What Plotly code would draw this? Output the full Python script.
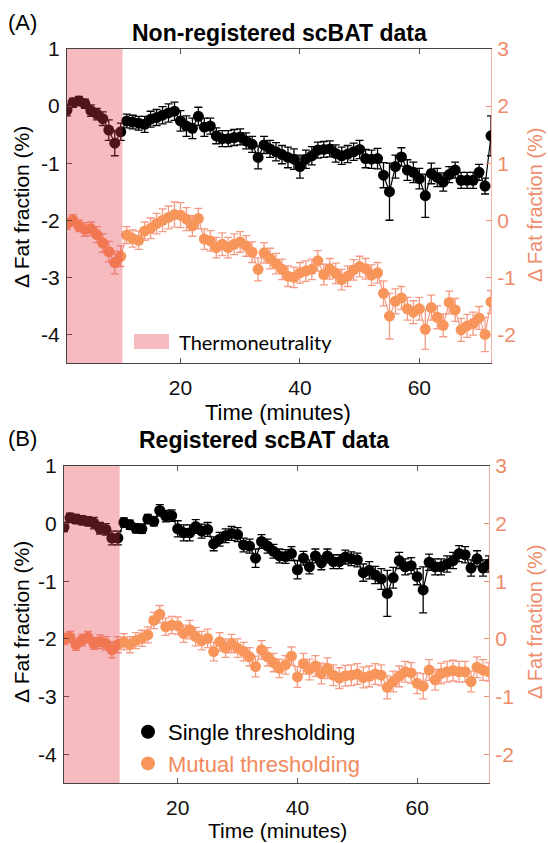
import plotly.graph_objects as go

# ---------------- data ----------------
time_min = list(range(1, 73))

# Panel A (non-registered): left axis (single thresholding), right axis (mutual thresholding)
a_single = [-0.07, 0.06, 0.09, 0.04, -0.08, -0.14, -0.22, -0.42, -0.65, -0.45,
            -0.26, -0.28, -0.30, -0.32, -0.23, -0.20, -0.16, -0.12, -0.09, -0.26,
            -0.35, -0.39, -0.18, -0.37, -0.35, -0.52, -0.57, -0.57, -0.55, -0.54,
            -0.61, -0.67, -0.90, -0.68, -0.75, -0.80, -0.85, -0.90, -0.93, -1.06,
            -0.93, -0.87, -0.77, -0.76, -0.75, -0.83, -0.87, -0.84, -0.80, -0.76,
            -0.92, -0.93, -0.92, -1.21, -1.50, -1.06, -0.89, -1.12, -1.16, -1.27,
            -1.57, -1.18, -1.25, -1.33, -1.20, -1.12, -1.30, -1.30, -1.30, -1.16,
            -1.40, -0.52]
a_single_err = [0.10, 0.08, 0.08, 0.08, 0.10, 0.10, 0.12, 0.18, 0.22, 0.15,
                0.12, 0.12, 0.12, 0.14, 0.14, 0.14, 0.15, 0.16, 0.16, 0.18,
                0.18, 0.18, 0.16, 0.16, 0.14, 0.14, 0.14, 0.14, 0.14, 0.14,
                0.14, 0.14, 0.20, 0.15, 0.15, 0.16, 0.16, 0.18, 0.18, 0.20,
                0.16, 0.16, 0.14, 0.14, 0.14, 0.15, 0.15, 0.15, 0.15, 0.16,
                0.16, 0.16, 0.18, 0.22, 0.50, 0.20, 0.16, 0.18, 0.18, 0.18,
                0.38, 0.18, 0.16, 0.16, 0.14, 0.14, 0.14, 0.14, 0.14, 0.14,
                0.14, 0.35]
a_mutual = [-0.06, 0.00, -0.10, -0.16, -0.15, -0.25, -0.40, -0.55, -0.74, -0.63,
            -0.26, -0.32, -0.35, -0.19, -0.14, -0.06, 0.00, 0.05, 0.10, 0.09,
            0.02, -0.10, 0.03, -0.33, -0.36, -0.48, -0.42, -0.48, -0.42, -0.38,
            -0.45, -0.56, -0.86, -0.57, -0.67, -0.76, -0.86, -0.98, -1.00, -0.92,
            -0.89, -0.86, -0.71, -0.95, -0.85, -0.93, -1.04, -0.98, -0.87, -0.81,
            -0.85, -0.96, -0.92, -1.28, -1.68, -1.42, -1.36, -1.55, -1.61, -1.55,
            -1.91, -1.53, -1.70, -1.84, -1.44, -1.57, -1.92, -1.85, -1.81, -1.71,
            -2.00, -1.43]
a_mutual_err = [0.10, 0.10, 0.10, 0.12, 0.12, 0.14, 0.16, 0.18, 0.20, 0.18,
                0.15, 0.15, 0.16, 0.16, 0.18, 0.18, 0.20, 0.20, 0.22, 0.22,
                0.20, 0.18, 0.18, 0.18, 0.18, 0.18, 0.20, 0.18, 0.18, 0.18,
                0.18, 0.18, 0.20, 0.18, 0.18, 0.18, 0.18, 0.18, 0.18, 0.18,
                0.18, 0.18, 0.18, 0.18, 0.18, 0.18, 0.18, 0.18, 0.18, 0.18,
                0.18, 0.18, 0.18, 0.22, 0.40, 0.22, 0.20, 0.20, 0.20, 0.20,
                0.35, 0.22, 0.20, 0.20, 0.20, 0.20, 0.20, 0.20, 0.20, 0.20,
                0.30, 0.20]

# Panel B (registered)
b_single = [-0.06, 0.10, 0.08, 0.06, 0.04, 0.01, -0.08, -0.10, -0.25, -0.25,
            0.02, -0.02, -0.08, -0.09, 0.08, 0.04, 0.23, 0.13, 0.14, -0.09,
            -0.16, -0.16, -0.05, -0.13, -0.10, -0.35, -0.27, -0.21, -0.17, -0.19,
            -0.37, -0.39, -0.60, -0.31, -0.39, -0.48, -0.56, -0.57, -0.52, -0.80,
            -0.60, -0.75, -0.56, -0.68, -0.56, -0.66, -0.66, -0.58, -0.61, -0.63,
            -0.85, -0.81, -0.89, -0.96, -1.21, -0.94, -0.64, -0.75, -0.73, -0.92,
            -1.15, -0.67, -0.75, -0.75, -0.70, -0.64, -0.52, -0.54, -0.77, -0.61,
            -0.77, -0.70]
b_single_err = [0.08, 0.08, 0.08, 0.08, 0.08, 0.10, 0.10, 0.10, 0.12, 0.12,
                0.08, 0.08, 0.08, 0.08, 0.08, 0.08, 0.10, 0.10, 0.10, 0.14,
                0.14, 0.14, 0.12, 0.12, 0.12, 0.12, 0.12, 0.12, 0.12, 0.12,
                0.12, 0.12, 0.16, 0.12, 0.12, 0.12, 0.12, 0.12, 0.12, 0.16,
                0.12, 0.12, 0.12, 0.12, 0.12, 0.12, 0.12, 0.12, 0.12, 0.12,
                0.15, 0.15, 0.15, 0.18, 0.40, 0.18, 0.14, 0.14, 0.14, 0.14,
                0.40, 0.14, 0.14, 0.14, 0.14, 0.14, 0.14, 0.14, 0.14, 0.14,
                0.14, 0.14]
b_mutual = [0.00, 0.03, -0.10, -0.02, 0.03, -0.08, -0.05, -0.08, -0.19, -0.10,
            -0.05, -0.10, -0.03, 0.01, 0.07, 0.32, 0.43, 0.21, 0.24, 0.23,
            0.09, 0.16, 0.04, -0.03, 0.01, -0.22, -0.05, -0.16, -0.08, -0.16,
            -0.22, -0.31, -0.48, -0.19, -0.31, -0.41, -0.51, -0.45, -0.30, -0.66,
            -0.43, -0.53, -0.47, -0.60, -0.51, -0.63, -0.68, -0.64, -0.63, -0.61,
            -0.67, -0.65, -0.61, -0.63, -0.84, -0.74, -0.65, -0.57, -0.59, -0.77,
            -0.82, -0.54, -0.71, -0.60, -0.57, -0.55, -0.57, -0.57, -0.74, -0.49,
            -0.54, -0.57]
b_mutual_err = [0.10, 0.10, 0.10, 0.10, 0.10, 0.10, 0.12, 0.12, 0.14, 0.14,
                0.14, 0.14, 0.14, 0.14, 0.14, 0.14, 0.15, 0.15, 0.15, 0.15,
                0.15, 0.16, 0.16, 0.16, 0.16, 0.16, 0.16, 0.16, 0.16, 0.16,
                0.16, 0.16, 0.18, 0.16, 0.16, 0.16, 0.16, 0.16, 0.16, 0.18,
                0.18, 0.18, 0.18, 0.18, 0.18, 0.18, 0.18, 0.18, 0.18, 0.18,
                0.18, 0.18, 0.18, 0.18, 0.20, 0.18, 0.18, 0.18, 0.18, 0.18,
                0.22, 0.18, 0.18, 0.18, 0.18, 0.18, 0.18, 0.18, 0.18, 0.18,
                0.18, 0.16]

thermo_start, thermo_end = 1, 10.3
left_ticks = [1, 0, -1, -2, -3, -4]
left_ticktext = ["1", "0", "-1", "-2", "-3", "-4"]
right_ticks = [3, 2, 1, 0, -1, -2]
right_ticktext = ["3", "2", "1", "0", "-1", "-2"]
x_ticks = [20, 40, 60]

# ---------------- styles ----------------
BLACK = "#000000"
ORANGE = "#F7955A"
ORANGE_ERR = "#F59A85"
SALMON = "#EE8C6C"
PINK = "#E63C46"
FONT = "Liberation Sans, Arial, sans-serif"
TICK_SIZE = 21

W, H = 548, 843
def fx(px):
    return px / W
def fy(py):
    return 1 - py / H

fig = go.Figure()

def add_series(x, y, err, xa, ya, color, ecolor, lcolor, name):
    fig.add_trace(go.Scatter(
        x=x, y=y, xaxis=xa, yaxis=ya, mode="lines+markers",
        line=dict(color=lcolor, width=1.2),
        marker=dict(color=color, size=11, line=dict(width=0)),
        error_y=dict(type="data", array=err, visible=True, color=ecolor, thickness=1.3, width=4),
        name=name, showlegend=False, hoverinfo="skip"))

add_series(time_min, a_mutual, a_mutual_err, "x", "y2", ORANGE, ORANGE_ERR, ORANGE_ERR, "Mutual thresholding")
add_series(time_min, a_single, a_single_err, "x", "y", BLACK, BLACK, BLACK, "Single thresholding")
add_series(time_min, b_mutual, b_mutual_err, "x2", "y4", ORANGE, ORANGE_ERR, ORANGE_ERR, "Mutual thresholding")
add_series(time_min, b_single, b_single_err, "x2", "y3", BLACK, BLACK, BLACK, "Single thresholding")

# legend-only entries for panel B
fig.add_trace(go.Scatter(x=[None], y=[None], xaxis="x2", yaxis="y3", mode="markers",
                         marker=dict(color=BLACK, size=14), name="Single thresholding",
                         showlegend=True))
fig.add_trace(go.Scatter(x=[None], y=[None], xaxis="x2", yaxis="y3", mode="markers",
                         marker=dict(color=ORANGE, size=14),
                         name='<span style="color:#F28A5E">Mutual thresholding</span>',
                         showlegend=True))

# thermoneutrality shading (drawn above the data, like the original)
fig.add_shape(type="rect", xref="x", yref="y domain", x0=thermo_start, x1=thermo_end, y0=0, y1=1,
              fillcolor=PINK, opacity=0.35, line=dict(width=0), layer="above")
fig.add_shape(type="rect", xref="x2", yref="y3 domain", x0=thermo_start, x1=thermo_end, y0=0, y1=1,
              fillcolor=PINK, opacity=0.35, line=dict(width=0), layer="above")
# legend swatch for the shading (panel A)
fig.add_shape(type="rect", xref="paper", yref="paper", x0=fx(134), x1=fx(169), y0=fy(349), y1=fy(334),
              fillcolor=PINK, opacity=0.35, line=dict(width=0), layer="above")

xcommon = dict(range=[1, 72], tickvals=x_ticks, ticks="inside", ticklen=5, tickcolor="#555",
               showline=True, linecolor="#444", linewidth=1, mirror="ticks", showgrid=False,
               zeroline=False, automargin=False, ticklabelstandoff=6,
               tickfont=dict(family=FONT, size=TICK_SIZE, color="#111"))
ylcommon = dict(range=[-4.5, 1], tickvals=left_ticks, ticktext=left_ticktext, ticks="inside",
                ticklen=5, tickcolor="#444", showline=True, linecolor="#444", linewidth=1,
                showgrid=False, zeroline=False, automargin=False, ticklabelstandoff=2,
                tickfont=dict(family=FONT, size=TICK_SIZE, color="#111"))
yrcommon = dict(range=[-2.5, 3], tickvals=right_ticks, ticktext=right_ticktext, ticks="inside",
                ticklen=5, tickcolor=SALMON, showline=True, linecolor="#F5B3A0", linewidth=1,
                showgrid=False, zeroline=False, side="right", automargin=False, ticklabelstandoff=1,
                tickfont=dict(family=FONT, size=TICK_SIZE, color=SALMON))

fig.update_layout(
    width=W, height=H, margin=dict(l=0, r=0, t=0, b=0, autoexpand=False),
    paper_bgcolor="white", plot_bgcolor="white",
    xaxis=dict(domain=[fx(67), fx(491)], anchor="y", **xcommon),
    yaxis=dict(domain=[fy(363), fy(49)], anchor="x", **ylcommon),
    yaxis2=dict(overlaying="y", anchor="x", **yrcommon),
    xaxis2=dict(domain=[fx(64), fx(489)], anchor="y3", **xcommon),
    yaxis3=dict(domain=[fy(783), fy(466)], anchor="x2", **ylcommon),
    yaxis4=dict(overlaying="y3", anchor="x2", **yrcommon),
    legend=dict(x=fx(128), y=fy(748), xanchor="left", yanchor="middle", tracegroupgap=0,
                bgcolor="rgba(0,0,0,0)", itemwidth=30,
                font=dict(family=FONT, size=22, color="#000")),
    showlegend=True,
)

ann = []
def text(x, y, s, size, color="#000", bold=False, angle=0, xanchor="center", family=FONT):
    ann.append(dict(x=fx(x), y=fy(y), xref="paper", yref="paper", text=("<b>%s</b>" % s) if bold else s,
                    showarrow=False, textangle=angle, xanchor=xanchor, yanchor="middle",
                    font=dict(family=family, size=size, color=color)))

text(6, 22, "(A)", 22, xanchor="left")
text(279, 33, "Non-registered scBAT data", 23, bold=True)
text(278, 412, "Time (minutes)", 22)
text(21, 207, "Δ Fat fraction (%)", 21, angle=-90)
text(535, 205, "Δ Fat fraction (%)", 20, color=SALMON, angle=-90)
text(177, 342, "Thermoneutrality", 20, xanchor="left", family="Lato, sans-serif")

text(6, 438, "(B)", 22, xanchor="left")
text(264, 440, "Registered scBAT data", 23, bold=True)
text(277, 830, "Time (minutes)", 21)
text(21, 622, "Δ Fat fraction (%)", 21, angle=-90)
text(535, 622, "Δ Fat fraction (%)", 20, color=SALMON, angle=-90)

fig.update_layout(annotations=ann)
fig.write_html("out.html", config={"displayModeBar": False},
               post_script="document.body.style.margin='0';")
